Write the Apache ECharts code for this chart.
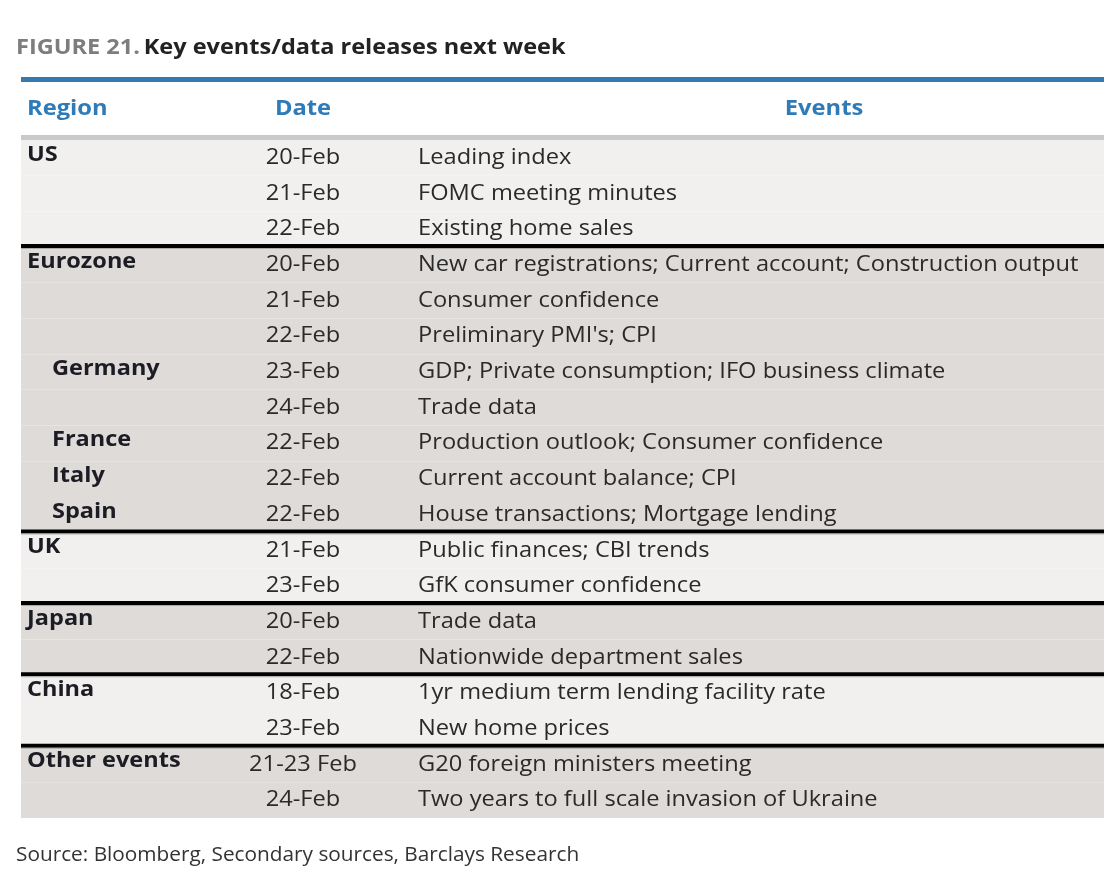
<!DOCTYPE html>
<html>
<head>
<meta charset="utf-8">
<script src="https://cdn.jsdelivr.net/npm/echarts@6/dist/echarts.min.js"></script>
<style>
html,body{margin:0;padding:0;background:#fff;}
#chart{width:1118px;height:884px;}
</style>
</head>
<body>
<div id="chart"></div>
<script>
const titleLead = 'FIGURE 21.';
const titleText = 'Key events/data releases next week';
const sourceText = 'Source: Bloomberg, Secondary sources, Barclays Research';
const headerLabels = ['Region', 'Date', 'Events'];
const regions = ['US','','','Eurozone','','','Germany','','France','Italy','Spain','UK','','Japan','','China','','Other events',''];
const subRegion = [0,0,0,0,0,0,1,0,1,1,1,0,0,0,0,0,0,0,0];
const dates = ['20-Feb','21-Feb','22-Feb','20-Feb','21-Feb','22-Feb','23-Feb','24-Feb','22-Feb','22-Feb','22-Feb','21-Feb','23-Feb','20-Feb','22-Feb','18-Feb','23-Feb','21-23 Feb','24-Feb'];
const events = [
  'Leading index',
  'FOMC meeting minutes',
  'Existing home sales',
  'New car registrations; Current account; Construction output',
  'Consumer confidence',
  "Preliminary PMI's; CPI",
  'GDP; Private consumption; IFO business climate',
  'Trade data',
  'Production outlook; Consumer confidence',
  'Current account balance; CPI',
  'House transactions; Mortgage lending',
  'Public finances; CBI trends',
  'GfK consumer confidence',
  'Trade data',
  'Nationwide department sales',
  '1yr medium term lending facility rate',
  'New home prices',
  'G20 foreign ministers meeting',
  'Two years to full scale invasion of Ukraine'
];
const groups = [0,0,0,1,1,1,1,1,1,1,1,2,2,3,3,4,4,5,5];

const FONT = '"Open Sans"';
const X_MAX = 1083;
const COL_REGION = 6, COL_SUB = 31, COL_DATE = 282, COL_EVENT = 397, COL_EVENTS_HDR = 803;
const Y_MIN = -1.74, N = regions.length;
const SX_TEXT = 1.1, SX_BOLD = 1.12, SX_HDR = 1.13;

const rowData = regions.map((r, i) => [i]);

const chart = echarts.init(document.getElementById('chart'), null, {renderer: 'canvas'});
chart.setOption({
  backgroundColor: '#ffffff',
  animation: false,
  graphic: [{
    type: 'text', left: 16, top: 38, scaleX: 1.12,
    style: {
      text: '{a|' + titleLead + '} {b|' + titleText + '}',
      rich: {
        a: {fontFamily: FONT, fontWeight: 'bold', fontSize: 21, fill: '#7d7d7d'},
        b: {fontFamily: FONT, fontWeight: 'bold', fontSize: 21, fill: '#222222'}
      }
    }
  }, {
    type: 'text', left: 16, top: 845, scaleX: 1.066,
    style: {text: sourceText, fontFamily: FONT, fontSize: 19.5, fill: '#333333'}
  }],
  grid: {left: 21, right: 14, top: 78, bottom: 66},
  xAxis: {type: 'value', min: 0, max: X_MAX, show: false},
  yAxis: {type: 'value', min: Y_MIN, max: N, inverse: true, show: false},
  series: [{
    type: 'custom',
    data: rowData,
    renderItem: function (params, api) {
      const i = params.dataIndex;
      const tl = api.coord([0, i]);
      const br = api.coord([X_MAX, i + 1]);
      const mid = (tl[1] + br[1]) / 2;
      const dark = groups[i] % 2 === 1;
      const children = [{
        type: 'rect',
        shape: {x: tl[0], y: tl[1], width: br[0] - tl[0], height: br[1] - tl[1]},
        style: {fill: dark ? '#dfdbd8' : '#f1f0ef'}
      }];
      if (regions[i]) {
        children.push({
          type: 'text', scaleX: SX_BOLD,
          x: api.coord([subRegion[i] ? COL_SUB : COL_REGION, 0])[0], y: mid - 3,
          style: {text: regions[i], fontFamily: FONT, fontWeight: 'bold', fontSize: 21,
                  fill: '#1c1c24', textAlign: 'left', textVerticalAlign: 'middle'}
        });
      }
      children.push({
        type: 'text', scaleX: SX_TEXT,
        x: api.coord([COL_DATE, 0])[0], y: mid,
        style: {text: dates[i], fontFamily: FONT, fontSize: 21.5, fill: '#2a2a2a',
                textAlign: 'center', textVerticalAlign: 'middle'}
      });
      children.push({
        type: 'text', scaleX: SX_TEXT,
        x: api.coord([COL_EVENT, 0])[0], y: mid,
        style: {text: events[i], fontFamily: FONT, fontSize: 21.5, fill: '#2a2a2a',
                textAlign: 'left', textVerticalAlign: 'middle'}
      });
      if (i > 0 && groups[i] !== groups[i - 1]) {
        children.push({
          type: 'rect',
          shape: {x: tl[0], y: tl[1] - 3, width: br[0] - tl[0], height: 4},
          style: {fill: '#000000'}
        });
        children.push({
          type: 'rect',
          shape: {x: tl[0], y: tl[1] + 1, width: br[0] - tl[0], height: 1},
          style: {fill: '#aaaaaa'}
        });
      }
      return {type: 'group', children: children};
    }
  }, {
    type: 'custom',
    data: [[Y_MIN]],
    renderItem: function (params, api) {
      const top = api.coord([0, Y_MIN]);
      const right = api.coord([X_MAX, 0]);
      const hy = api.coord([0, -0.86])[1];
      const cols = [COL_REGION, COL_DATE, COL_EVENTS_HDR];
      const aligns = ['left', 'center', 'center'];
      const children = [{
        type: 'rect',
        shape: {x: top[0], y: top[1] - 1, width: right[0] - top[0], height: 5},
        style: {fill: '#3479b0'}
      }, {
        type: 'rect',
        shape: {x: top[0], y: right[1] - 5, width: right[0] - top[0], height: 5},
        style: {fill: '#c9c9c9'}
      }];
      headerLabels.forEach((h, k) => {
        children.push({
          type: 'text', scaleX: SX_HDR,
          x: api.coord([cols[k], 0])[0], y: hy,
          style: {text: h, fontFamily: FONT, fontWeight: 'bold', fontSize: 21, fill: '#2f7bb8',
                  textAlign: aligns[k], textVerticalAlign: 'middle'}
        });
      });
      return {type: 'group', children: children};
    }
  }]
});
</script>
</body>
</html>
